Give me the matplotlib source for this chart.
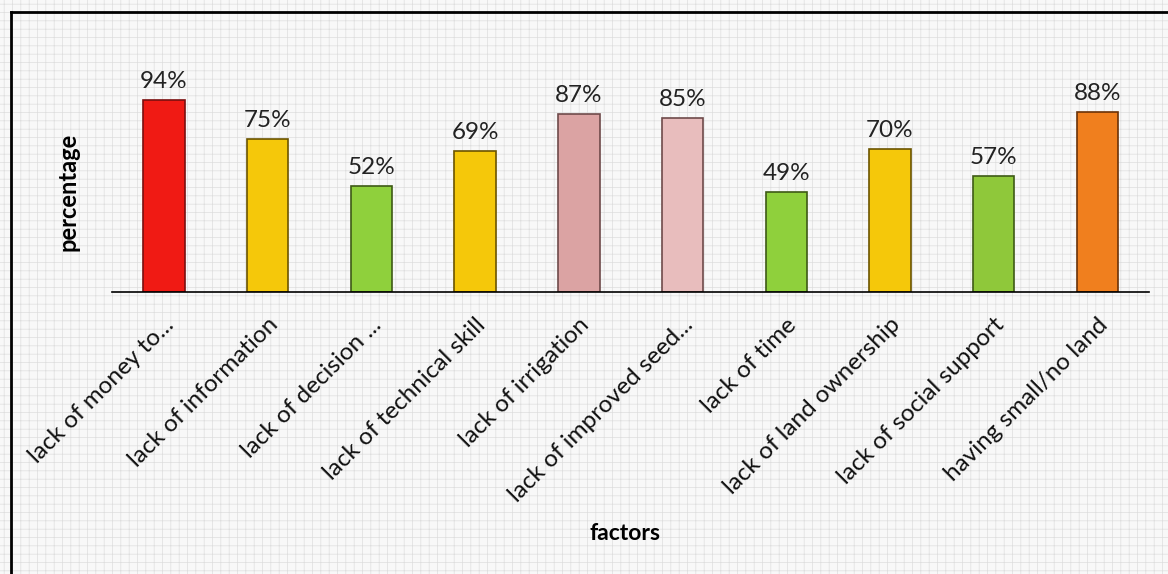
import matplotlib.pyplot as plt
from matplotlib.lines import Line2D
from matplotlib.patches import Rectangle
from matplotlib.transforms import ScaledTranslation

FACTORS = [
    "lack of money to...",
    "lack of information",
    "lack of decision ...",
    "lack of technical skill",
    "lack of irrigation",
    "lack of improved seed...",
    "lack of time",
    "lack of land ownership",
    "lack of social support",
    "having small/no land",
]
PERCENTAGES = [94, 75, 52, 69, 87, 85, 49, 70, 57, 88]
BAR_COLORS = ["#f01a14", "#f5c80a", "#8fd03c", "#f5c80a", "#dba3a3",
              "#e8bdbd", "#8fd03c", "#f5c80a", "#8fc83a", "#f07f1e"]
EDGE_COLORS = ["#7a1010", "#6b5400", "#3e5a16", "#6b5400", "#6e4a4a",
               "#6e4a4a", "#3e5a16", "#6b5400", "#3e5a16", "#6a3208"]

plt.rcParams["font.family"] = ["Lato", "DejaVu Sans"]
plt.rcParams["hatch.linewidth"] = 0.5

fig = plt.figure(figsize=(11.68, 5.74), dpi=100)
fig.patch.set_facecolor("#f8f8f8")

# linen-like backdrop
bg = Rectangle((0, 0), 1, 1, transform=fig.transFigure, facecolor="#f8f8f8",
               edgecolor="#dedede", hatch="++", linewidth=0, zorder=-10)
fig.patches.append(bg)

# frame lines on top and left
fig.add_artist(Line2D([0.009, 1.0], [0.979, 0.979], transform=fig.transFigure,
                      color="black", linewidth=2))
fig.add_artist(Line2D([0.009, 0.009], [0.0, 0.979], transform=fig.transFigure,
                      color="black", linewidth=2))

ax = fig.add_axes([0.096, 0.491, 0.888, 0.356])
ax.set_facecolor("none")

x = range(len(FACTORS))
bars = ax.bar(x, PERCENTAGES, width=0.4, color=BAR_COLORS,
              edgecolor=EDGE_COLORS, linewidth=1.2)

for bar, pct in zip(bars, PERCENTAGES):
    ax.text(bar.get_x() + bar.get_width() / 2, pct + 4, f"{pct}%",
            ha="center", va="bottom", fontsize=17.5, color="#222222", clip_on=False)

ax.set_xlim(-0.5, 9.5)
ax.set_ylim(0, 100)
ax.set_yticks([])
ax.set_xticks(list(x))
ax.set_xticklabels(FACTORS, rotation=45, ha="right", va="center",
                   rotation_mode="anchor", fontsize=17.5, color="#111111")
ax.tick_params(axis="x", length=0, pad=21)
offset = ScaledTranslation(0.07, 0, fig.dpi_scale_trans)
for lbl in ax.get_xticklabels():
    lbl.set_transform(lbl.get_transform() + offset)

for side in ["top", "right", "left"]:
    ax.spines[side].set_visible(False)
ax.spines["bottom"].set_linewidth(1.2)

fig.text(0.058, 0.666, "percentage", rotation=90, ha="center", va="center",
         fontsize=17, fontweight="bold")
fig.text(0.535, 0.071, "factors", ha="center", va="center",
         fontsize=16.5, fontweight="bold")

fig.savefig("out.png", dpi=100, facecolor=fig.get_facecolor())
